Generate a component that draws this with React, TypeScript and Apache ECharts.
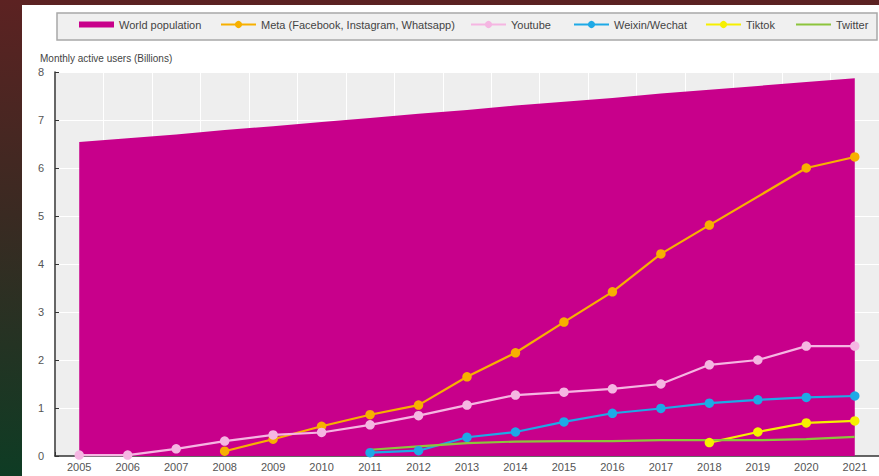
import React, { useEffect, useRef } from "react";
import * as echarts from "echarts";

const years = ["2005","2006","2007","2008","2009","2010","2011","2012","2013","2014","2015","2016","2017","2018","2019","2020","2021"];
const worldPopulation = [6.54,6.62,6.70,6.79,6.87,6.96,7.04,7.13,7.21,7.30,7.38,7.46,7.55,7.63,7.71,7.79,7.87];
const meta = [null,null,null,0.1,0.35,0.62,0.86,1.06,1.65,2.15,2.79,3.42,4.21,4.81,null,6.0,6.23];
const youtube = [0.02,0.02,0.15,0.31,0.44,0.49,0.65,0.84,1.06,1.27,1.33,1.40,1.50,1.90,2.0,2.29,2.29];
const weixin = [null,null,null,null,null,null,0.07,0.11,0.39,0.5,0.71,0.89,0.99,1.1,1.17,1.22,1.25];
const tiktok = [null,null,null,null,null,null,null,null,null,null,null,null,null,0.28,0.5,0.69,0.73];
const twitter = [null,null,null,null,null,null,0.13,0.2,0.27,0.3,0.31,0.31,0.33,0.33,0.33,0.35,0.4];
const yTicks = [0,1,2,3,4,5,6,7,8];

const C = {
  world: "#c8008b",
  meta: "#f7b000",
  youtube: "#f5b6e2",
  weixin: "#1ea9e6",
  tiktok: "#f6ef00",
  twitter: "#8cc43c",
};

const FONT = "Liberation Sans, Arial, sans-serif";

export default function App() {
  const ref = useRef<HTMLDivElement>(null);
  useEffect(() => {
    if (!ref.current) return;
    const chart = echarts.init(ref.current, null, { renderer: "svg" });
    const lineSeries = (name: string, data: (number | null)[], color: string, symbol = true) => ({
      name,
      type: "line",
      data,
      connectNulls: true,
      symbol: symbol ? "circle" : "none",
      symbolSize: 9.5,
      showSymbol: symbol,
      itemStyle: { color },
      lineStyle: { color, width: 2.2 },
      z: 3,
    });
    const legendItem = (name: string, left: number, icon?: string, h?: number) => ({
      show: true,
      left,
      top: 14,
      data: [icon ? { name, icon } : { name }],
      itemWidth: 35,
      itemHeight: h ?? 9,
      itemGap: 0,
      padding: 0,
      selectedMode: false,
      textStyle: { fontFamily: FONT, fontSize: 11, color: "#444", padding: [0, 0, 0, 0] },
    });
    chart.setOption({
      animation: false,
      backgroundColor: "#ffffff",
      textStyle: { fontFamily: FONT },
      grid: {
        left: 33,
        top: 67,
        height: 384,
        width: 826,
        show: true,
        backgroundColor: "#eeeeee",
        borderWidth: 0,
      },
      graphic: [
        {
          type: "rect",
          shape: { x: 35, y: 8, width: 820, height: 27 },
          style: { fill: "#f0f0f0", stroke: "#a8a8a8", lineWidth: 1.5 },
          z: -1,
        },
      ],
      legend: [
        legendItem("World population", 57, "rect", 6),
        legendItem("Meta (Facebook, Instagram, Whatsapp)", 198),
        legendItem("Youtube", 448),
        legendItem("Weixin/Wechat", 551),
        legendItem("Tiktok", 683),
        legendItem("Twitter", 774, "rect", 2),
      ],
      xAxis: {
        type: "category",
        data: years,
        boundaryGap: true,
        axisLine: { show: true, lineStyle: { color: "#333", width: 1.5 } },
        axisTick: { show: true, inside: true, length: 4, lineStyle: { color: "#333" } },
        axisLabel: { fontSize: 11, color: "#555", margin: 5, fontFamily: FONT },
        splitLine: { show: true, lineStyle: { color: "#ffffff", width: 1 } },
      },
      yAxis: {
        type: "value",
        min: yTicks[0],
        max: yTicks[yTicks.length - 1],
        interval: 1,
        name: "Monthly active users (Billions)",
        nameLocation: "end",
        nameGap: 9,
        nameTextStyle: { align: "left", fontSize: 10, color: "#444", fontFamily: FONT, padding: [0, 0, 0, -15] },
        axisLine: { show: true, lineStyle: { color: "#333", width: 1.5 } },
        axisTick: { show: true, inside: true, length: 4, lineStyle: { color: "#333" } },
        axisLabel: { fontSize: 11, color: "#555", margin: 11, fontFamily: FONT },
        splitLine: { show: true, lineStyle: { color: "#ffffff", width: 1 } },
      },
      series: [
        {
          name: "World population",
          type: "line",
          data: worldPopulation,
          symbol: "none",
          itemStyle: { color: C.world },
          lineStyle: { width: 0, color: C.world },
          areaStyle: { color: C.world, opacity: 1 },
          z: 2,
        },
        lineSeries("Meta (Facebook, Instagram, Whatsapp)", meta, C.meta),
        lineSeries("Youtube", youtube, C.youtube),
        lineSeries("Weixin/Wechat", weixin, C.weixin),
        lineSeries("Tiktok", tiktok, C.tiktok),
        lineSeries("Twitter", twitter, C.twitter, false),
      ],
    });
    return () => chart.dispose();
  }, []);
  return (
    <div
      style={{
        position: "fixed",
        left: 0,
        top: 0,
        width: 879,
        height: 476,
        background: "linear-gradient(to bottom, #5c2222 0%, #3a2a22 45%, #0e3c24 100%)",
        overflow: "hidden",
      }}
    >
      <div
        ref={ref}
        style={{ position: "absolute", left: 22, top: 5, width: 857, height: 471, background: "#fff" }}
      />
    </div>
  );
}
